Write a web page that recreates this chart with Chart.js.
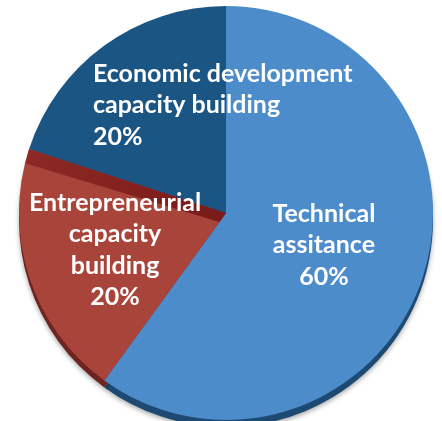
<!DOCTYPE html>
<html><head><meta charset="utf-8">
<script src="https://cdn.jsdelivr.net/npm/chart.js@4/dist/chart.umd.min.js"></script>
<style>html,body{margin:0;padding:0;background:#fff}canvas{display:block}</style>
</head><body>
<canvas id="c" width="442" height="421"></canvas>
<script>
const categories = ["Technical assitance", "Entrepreneurial capacity building", "Economic development capacity building"];
const values = [60, 20, 20];
const labelLines = [["Technical", "assitance", "60%"], ["Entrepreneurial", "capacity", "building", "20%"], ["Economic development", "capacity building", "20%"]];
const colors = ["#4D8CCB", "#A9443A", "#1B5584"];
const rimColors = ["#1D4A73", "#6E2420", "#12385A"];

const FONT = "bold 25px Lato, 'Open Sans', sans-serif";

const depthPlugin = {
  id: 'depth',
  beforeDatasetsDraw(chart) {
    const ctx = chart.ctx;
    const meta = chart.getDatasetMeta(0);
    ctx.save();
    ctx.shadowColor = 'rgba(0,0,0,0.35)';
    ctx.shadowBlur = 5;
    ctx.shadowOffsetY = 2;
    meta.data.forEach((arc, i) => {
      const p = arc.getProps(['x','y','startAngle','endAngle','outerRadius']);
      ctx.beginPath();
      ctx.moveTo(p.x, p.y + 7);
      ctx.arc(p.x, p.y + 7, p.outerRadius, p.startAngle, p.endAngle);
      ctx.closePath();
      ctx.fillStyle = rimColors[i];
      ctx.fill();
    });
    ctx.restore();
  },
  afterDatasetsDraw(chart) {
    const ctx = chart.ctx;
    const meta = chart.getDatasetMeta(0);
    const red = meta.data[1].getProps(['x','y','startAngle','endAngle','outerRadius']);
    ctx.save();
    ctx.beginPath();
    ctx.moveTo(red.x, red.y);
    ctx.arc(red.x, red.y, red.outerRadius, red.startAngle, red.endAngle);
    ctx.closePath();
    ctx.clip();
    const a = red.endAngle;
    const px = red.x + Math.cos(a) * red.outerRadius * 1.1;
    const py = red.y + Math.sin(a) * red.outerRadius * 1.1;
    const g = ctx.createLinearGradient(px, py, red.x, red.y);
    g.addColorStop(0, '#8E2B27');
    g.addColorStop(1, '#7A1A1A');
    ctx.beginPath();
    ctx.moveTo(red.x, red.y - 2);
    ctx.lineTo(px, py - 2);
    ctx.lineTo(px, py + 16);
    ctx.lineTo(red.x, red.y + 11);
    ctx.closePath();
    ctx.fillStyle = g;
    ctx.fill();
    ctx.restore();

    const c = meta.data[0].getProps(['x','y','outerRadius']);
    const R = c.outerRadius;
    const anchors = [
      {dx: 0.473, dy: 0.155, align: 'center'},
      {dx: -0.536, dy: 0.179, align: 'center'},
      {dx: -0.643, dy: -0.522, align: 'left'}
    ];
    ctx.save();
    ctx.font = FONT;
    ctx.fillStyle = '#ffffff';
    ctx.textBaseline = 'middle';
    const lh = 31.5;
    labelLines.forEach((lines, i) => {
      const an = anchors[i];
      ctx.textAlign = an.align;
      const cx = c.x + an.dx * R;
      const cy = c.y + an.dy * R;
      const y0 = cy - (lines.length - 1) * lh / 2;
      lines.forEach((t, j) => ctx.fillText(t, cx, y0 + j * lh));
    });
    ctx.restore();
  }
};

new Chart(document.getElementById('c'), {
  type: 'pie',
  data: {
    labels: categories,
    datasets: [{
      data: values,
      backgroundColor: colors,
      borderWidth: 0
    }]
  },
  options: {
    responsive: false,
    animation: false,
    layout: {padding: {left: 19, right: 9, top: 6, bottom: 1}},
    plugins: {legend: {display: false}, tooltip: {enabled: false}}
  },
  plugins: [depthPlugin]
});
</script>
</body></html>
